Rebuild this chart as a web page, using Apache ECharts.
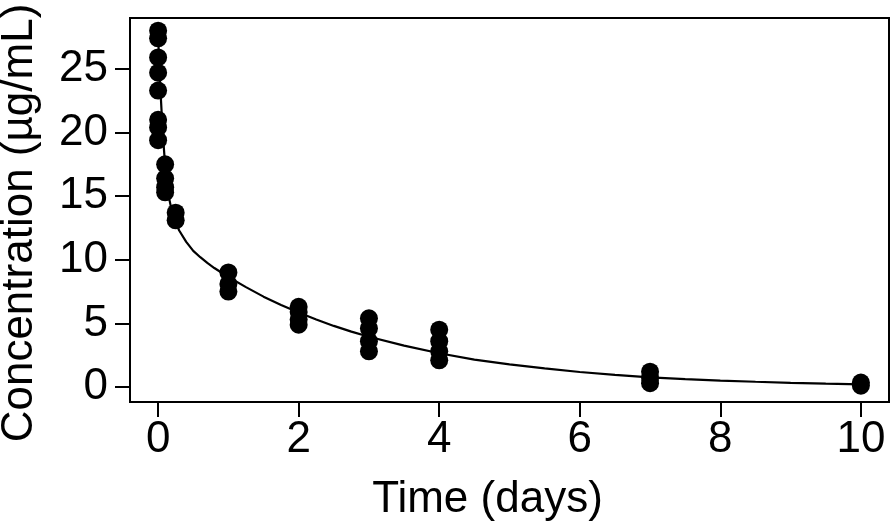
<!DOCTYPE html>
<html>
<head>
<meta charset="utf-8">
<script src="https://cdn.jsdelivr.net/npm/echarts@6/dist/echarts.min.js"></script>
<style>html,body{margin:0;padding:0;background:#fff}#c{width:894px;height:527px}</style>
</head>
<body>
<div id="c"></div>
<script>
// Observed concentrations
const obsTime = [0,0,0,0,0,0,0,0, 0.1,0.1,0.1,0.1, 0.25,0.25, 1,1,1, 2,2,2,2, 3,3,3,3, 4,4,4,4, 7,7,7, 10,10];
const obsConc = [28.0,27.4,25.9,24.7,23.3,21.0,20.4,19.4, 17.5,16.4,15.7,15.3, 13.7,13.1, 9.0,8.1,7.5, 6.3,5.9,5.3,4.9, 5.4,4.6,3.6,2.8, 4.5,3.6,2.8,2.1, 1.2,0.7,0.3, 0.35,0.1];
// Fitted curve
const fitTime = [0,0.025,0.05,0.075,0.1,0.15,0.2,0.25,0.3,0.4,0.5,0.6,0.7,0.8,0.9,1.0,1.25,1.5,1.75,2.0,2.25,2.5,2.75,3.0,3.5,4.0,4.5,5.0,5.5,6.0,6.5,7.0,7.5,8.0,8.5,9.0,9.5,10.0];
const fitConc = [27.6,24.2,21.6,19.3,17.4,15.0,13.7,12.9,12.3,11.4,10.7,10.2,9.75,9.35,9.0,8.65,7.85,7.1,6.45,5.85,5.3,4.8,4.35,3.95,3.25,2.65,2.15,1.78,1.46,1.18,0.95,0.76,0.62,0.5,0.41,0.33,0.26,0.21];
// Tick labels
const xTicks = [0,2,4,6,8,10];
const yTicks = [0,5,10,15,20,25];

const font = '"Liberation Sans", Arial, Helvetica, sans-serif';
const chart = echarts.init(document.getElementById('c'), null, {renderer:'canvas'});
chart.setOption({
  animation:false,
  backgroundColor:'#fff',
  grid:{left:130, right:5, top:18, bottom:125, containLabel:false, outerBoundsMode:'none',
        show:true, borderColor:'#000', borderWidth:2, backgroundColor:'transparent'},
  xAxis:{
    type:'value', min:-0.4, max:10.4,
    name:'Time (days)', nameLocation:'middle', nameGap:76,
    nameTextStyle:{fontFamily:font, fontSize:44, color:'#000', padding:[0,44,0,0]},
    axisLine:{show:true, onZero:false, lineStyle:{color:'#000', width:2}},
    axisTick:{show:true, length:15, lineStyle:{color:'#000', width:2}, customValues:xTicks},
    axisLabel:{fontFamily:font, fontSize:44, color:'#000', margin:16, customValues:xTicks},
    splitLine:{show:false}
  },
  yAxis:{
    type:'value', min:-1.18, max:29.0,
    name:'Concentration (µg/mL)', nameLocation:'middle', nameGap:88, nameRotate:90,
    nameTextStyle:{fontFamily:font, fontSize:44, color:'#000', padding:[0,26,0,0]},
    axisLine:{show:true, onZero:false, lineStyle:{color:'#000', width:2}},
    axisTick:{show:true, length:15, lineStyle:{color:'#000', width:2}, customValues:yTicks},
    axisLabel:{fontFamily:font, fontSize:44, color:'#000', margin:22, customValues:yTicks},
    splitLine:{show:false}
  },
  series:[
    {type:'line', data:fitTime.map((t,i)=>[t,fitConc[i]]), showSymbol:false, smooth:false,
     lineStyle:{color:'#000', width:2.2}, z:2},
    {type:'scatter', data:obsTime.map((t,i)=>[t,obsConc[i]]), symbol:'circle', symbolSize:18,
     itemStyle:{color:'#000', opacity:1}, z:3}
  ]
});
</script>
</body>
</html>
